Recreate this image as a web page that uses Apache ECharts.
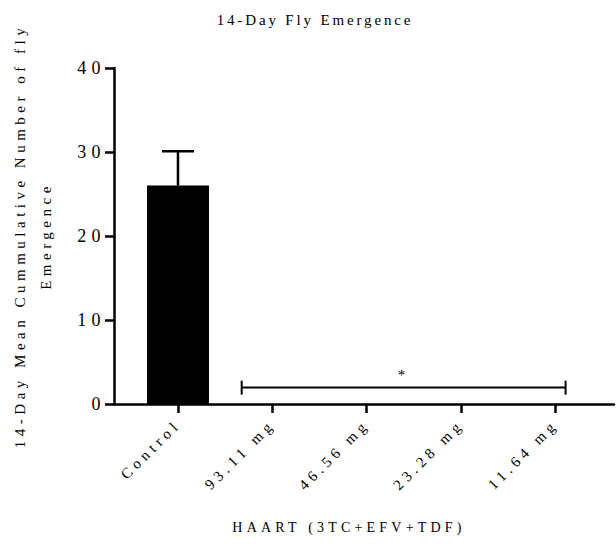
<!DOCTYPE html>
<html>
<head>
<meta charset="utf-8">
<script src="https://cdn.jsdelivr.net/npm/echarts@6/dist/echarts.min.js"></script>
<style>
  html, body { margin: 0; padding: 0; background: #fff; }
  #chart { width: 616px; height: 554px; }
  #chart svg text { letter-spacing: 0.3em; }
</style>
</head>
<body>
<div id="chart"></div>
<script>
// ---- data ----
const categories = ['Control', '93.11 mg', '46.56 mg', '23.28 mg', '11.64 mg'];
const meanValues = [26, 0, 0, 0, 0];
const errorValues = [4.1, 0, 0, 0, 0];
const yTickValues = [0, 10, 20, 30, 40];
const titleText = '14-Day Fly Emergence';
const yAxisTitle = '14-Day Mean Cummulative Number of fly\nEmergence';
const xAxisTitle = 'HAART (3TC+EFV+TDF)';
// significance bracket: from / to (category positions) and level (y value)
const bracketFrom = [0.675];
const bracketTo = [4.107];
const bracketLevel = [1.95];
const bracketLabel = ['*'];

const FONT = '"Liberation Serif", "Times New Roman", serif';
const catIdx = categories.map((c, i) => i);

const chart = echarts.init(document.getElementById('chart'), null, { renderer: 'svg' });

const option = {
  animation: false,
  backgroundColor: '#fff',
  tooltip: { show: false },
  title: {
    text: titleText,
    left: 310,
    top: 7,
    textAlign: 'center',
    textStyle: { fontFamily: FONT, fontSize: 15, fontWeight: 'normal', color: '#000' }
  },
  grid: { left: 114, right: 2, top: 68, bottom: 150, containLabel: false, outerBoundsMode: 'none' },
  xAxis: {
    type: 'value',
    min: -0.678,
    max: 4.62,
    splitLine: { show: false },
    axisPointer: { show: false },
    axisLine: { show: true, onZero: false, lineStyle: { color: '#000', width: 2.5 } },
    axisTick: { show: true, customValues: catIdx, length: 9, lineStyle: { color: '#000', width: 2.5 } },
    axisLabel: {
      customValues: catIdx,
      rotate: 45,
      margin: 18,
      fontFamily: FONT,
      fontSize: 15,
      color: '#000',
      formatter: v => categories[Math.round(v)] || ''
    },
    name: xAxisTitle,
    nameLocation: 'middle',
    nameGap: 116,
    nameTextStyle: { fontFamily: FONT, fontSize: 14, color: '#000', padding: [0, 30, 0, 0] }
  },
  yAxis: {
    type: 'value',
    min: 0,
    max: 40,
    interval: 10,
    splitLine: { show: false },
    axisPointer: { show: false },
    axisLine: { show: true, onZero: false, lineStyle: { color: '#000', width: 2.5 } },
    axisTick: { show: true, length: 9, lineStyle: { color: '#000', width: 2.5 } },
    axisLabel: {
      margin: 8,
      fontFamily: FONT,
      fontSize: 18,
      color: '#000',
      formatter: v => (yTickValues.indexOf(v) >= 0 ? String(v) : '')
    },
    name: yAxisTitle,
    nameLocation: 'middle',
    nameRotate: 90,
    nameGap: 55,
    nameTextStyle: { fontFamily: FONT, fontSize: 15, color: '#000', lineHeight: 26, align: 'center' }
  },
  series: [
    {
      type: 'bar',
      data: meanValues.map((v, i) => [i, v]),
      barWidth: 62,
      itemStyle: { color: '#000' },
      z: 2
    },
    {
      type: 'custom',
      data: meanValues.map((v, i) => [i, v]),
      z: 3,
      clip: false,
      renderItem: function (params, api) {
        const i = params.dataIndex;
        const lo = meanValues[i];
        const hi = meanValues[i] + errorValues[i];
        if (!(hi > lo)) return null;
        const p1 = api.coord([i, lo]);
        const p2 = api.coord([i, hi]);
        const half = 16;
        return {
          type: 'group',
          children: [
            { type: 'polyline', shape: { points: [[p1[0], p1[1]], [p2[0], p2[1]]] }, style: { stroke: '#000', lineWidth: 2.5, fill: null } },
            { type: 'polyline', shape: { points: [[p2[0] - half, p2[1]], [p2[0] + half, p2[1]]] }, style: { stroke: '#000', lineWidth: 2.5, fill: null } }
          ]
        };
      }
    },
    {
      type: 'custom',
      data: bracketFrom.map((f, i) => [f, bracketLevel[i]]),
      z: 3,
      clip: false,
      renderItem: function (params, api) {
        const i = params.dataIndex;
        const a = api.coord([bracketFrom[i], bracketLevel[i]]);
        const b = api.coord([bracketTo[i], bracketLevel[i]]);
        const cap = 7;
        return {
          type: 'group',
          children: [
            { type: 'polyline', shape: { points: [[a[0], a[1]], [b[0], b[1]]] }, style: { stroke: '#000', lineWidth: 2, fill: null } },
            { type: 'polyline', shape: { points: [[a[0], a[1] - cap], [a[0], a[1] + cap]] }, style: { stroke: '#000', lineWidth: 2, fill: null } },
            { type: 'polyline', shape: { points: [[b[0], b[1] - cap], [b[0], b[1] + cap]] }, style: { stroke: '#000', lineWidth: 2, fill: null } },
            { type: 'text', x: (a[0] + b[0]) / 2, y: a[1] - 5, style: { text: bracketLabel[i], fill: '#000', font: '15px ' + FONT, align: 'center', verticalAlign: 'bottom' } }
          ]
        };
      }
    }
  ]
};

chart.setOption(option);

// tighter letter spacing for the title, as in the reference
document.querySelectorAll('#chart svg text').forEach(t => {
  if (t.textContent === titleText) t.style.letterSpacing = '0.19em';
});
</script>
</body>
</html>
